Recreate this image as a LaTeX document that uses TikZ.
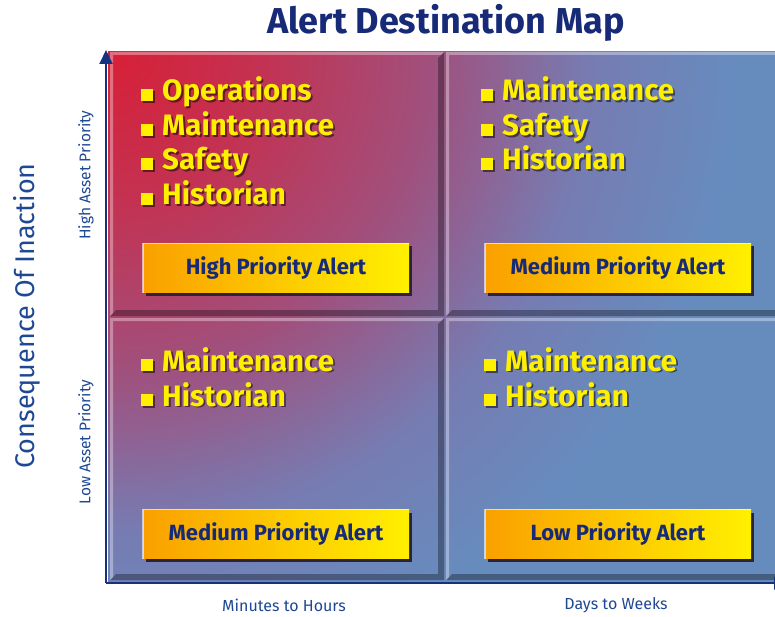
\documentclass[tikz,border=0pt]{standalone}
\usepackage{fontspec}
\setmainfont{Fira Sans}
\usepackage{graphicx}
\usetikzlibrary{arrows.meta,shadows}
\definecolor{cA}{RGB}{215,32,55}
\definecolor{cB}{RGB}{195,50,82}
\definecolor{cC}{RGB}{160,80,125}
\definecolor{cD}{RGB}{118,124,178}
\definecolor{cE}{RGB}{102,140,190}
\definecolor{ylw}{RGB}{255,240,0}
\definecolor{orng}{RGB}{250,160,0}
\definecolor{navy}{RGB}{22,42,120}
\definecolor{axisblue}{RGB}{30,72,148}
\definecolor{arrowblue}{RGB}{20,50,125}
\definecolor{boxshd}{RGB}{45,35,55}
\pgfdeclareradialshading{bgshade}{\pgfpoint{0bp}{0bp}}{color(0bp)=(cA); color(4.2bp)=(cB); color(8.9bp)=(cC); color(13.3bp)=(cD); color(17.5bp)=(cE); color(50bp)=(cE)}
\newcommand\itembullet{\rule{12pt}{12pt}\hspace{9pt}}
\newcommand\litem[4]{%
  \node[itemshadow] (#1s) at (#2+1.8,#3+1.8) {\itembullet #4};
  \node[itemtext] (#1) at (#2,#3) {\itembullet #4};}
\newcommand\quadtile[4]{%
  \fill[black,opacity=.32] (#3,#2) -- (#3,#4) -- (#1,#4) -- (#1+6,#4-6) -- (#3-6,#4-6) -- (#3-6,#2+6) -- cycle;
  \fill[white,opacity=.35] (#1,#4) -- (#1,#2) -- (#3,#2) -- (#3-3,#2+3) -- (#1+3,#2+3) -- (#1+3,#4-3) -- cycle;}
\newcommand\alertnode[4]{%
  \node[alertbox] (#1) at (#2,#3) {#4};
  \draw[white,opacity=.6,line width=1.5pt] (#1.south west) -- (#1.north west) -- (#1.north east);}
\begin{document}
\begin{tikzpicture}[x=1pt,y=-1pt,
  itemtext/.style={text=ylw, font=\fontsize{29.5}{29.5}\selectfont\bfseries, inner sep=0pt, anchor=base west},
  itemshadow/.style={itemtext, text=black, text opacity=.5},
  alertbox/.style={minimum width=266pt, minimum height=49pt, inner sep=0pt, left color=orng, right color=ylw, text=navy, font=\fontsize{22}{22}\selectfont\bfseries, general shadow={fill=boxshd, shadow xshift=3pt, shadow yshift=-3pt}},
  axis/.style={draw=arrowblue, line width=2pt},
  axtip/.style={-{Triangle[length=14pt,width=13pt,fill=arrowblue]}},
  axlabel/.style={text=axisblue, inner sep=0pt},
]
\path[use as bounding box, clip] (0,0) rectangle (775,617);
\fill[white] (0,0) rectangle (775,617);
\begin{scope}
  \clip (108,52) rectangle (776,581);
  \shade[shading=bgshade] (110-900,52-900) rectangle (110+900,52+900);
\end{scope}
\quadtile{110}{52}{444}{316}
\quadtile{446}{52}{790}{316}
\quadtile{110}{318}{444}{580}
\quadtile{446}{318}{790}{580}
% title
\node[text=navy, font=\fontsize{36}{36}\selectfont\bfseries, anchor=base, inner sep=0pt] (title) at (446,34) {Alert Destination Map};
% lists
\litem{tl1}{141}{101}{Operations}
\litem{tl2}{141}{136}{Maintenance}
\litem{tl3}{141}{170}{Safety}
\litem{tl4}{141}{205}{Historian}
\litem{tr1}{481}{101}{Maintenance}
\litem{tr2}{481}{136}{Safety}
\litem{tr3}{481}{170}{Historian}
\litem{bl1}{141}{371}{Maintenance}
\litem{bl2}{141}{406}{Historian}
\litem{br1}{484}{371}{Maintenance}
\litem{br2}{484}{406}{Historian}
% alert boxes
\alertnode{atl}{276}{268}{High Priority Alert}
\alertnode{atr}{618}{268}{Medium Priority Alert}
\alertnode{abl}{276}{534}{Medium Priority Alert}
\alertnode{abr}{618}{534}{Low Priority Alert}
% axes
\coordinate (origin) at (106,583);
\coordinate (ytop) at (106,50);
\coordinate (xend) at (788,583);
\draw[axis, axtip] (origin) -- (ytop);
\draw[axis, axtip] (origin) -- (xend);
% axis labels
\node[axlabel, rotate=90, font=\fontsize{27}{27}\selectfont] (cons) at (27,316) {Consequence Of Inaction};
\node[axlabel, rotate=90, font=\fontsize{15.5}{15.5}\selectfont] (hap) at (86,175) {High Asset Priority};
\node[axlabel, rotate=90, font=\fontsize{15.5}{15.5}\selectfont] (lap) at (86,442) {Low Asset Priority};
\node[axlabel, font=\fontsize{16}{16}\selectfont] (mth) at (284,605) {Minutes to Hours};
\node[axlabel, font=\fontsize{16}{16}\selectfont] (dtw) at (616,605) {Days to Weeks};
\end{tikzpicture}
\end{document}
